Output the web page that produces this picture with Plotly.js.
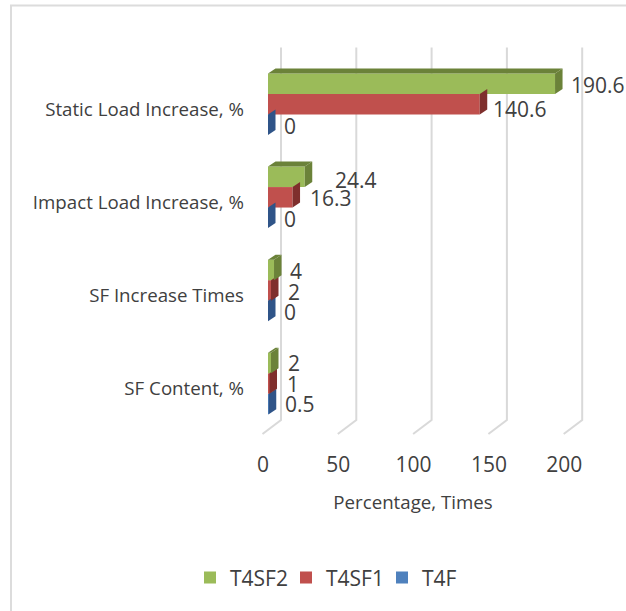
<!DOCTYPE html>
<html>
<head>
<meta charset="utf-8">
<script src="https://cdn.plot.ly/plotly-3.0.1.min.js"></script>
<style>html,body{margin:0;padding:0;background:#fff}</style>
</head>
<body>
<div id="chart" style="width:626px;height:611px"></div>
<script>
// Data (categories listed bottom to top)
const categories = ["SF Content, %", "SF Increase Times", "Impact Load Increase, %", "Static Load Increase, %"];
const T4F = [0.5, 0, 0, 0];
const T4SF1 = [1, 2, 16.3, 140.6];
const T4SF2 = [2, 4, 24.4, 190.6];
const xTicks = [0, 50, 100, 150, 200];
const xTitle = "Percentage, Times";

// Styling
const FONT = '"Open Sans", sans-serif';
const TXT = '#404040';
const GRID = '#d9d9d9';
const W = 626, H = 611;
const plotL = 240, plotR = 586, plotT = 45, plotB = 440;
const zeroPx = 268, pxPerUnit = 1.506;
const catPx = 93.1, cat0Px = 383.5;
const barPx = 20.5;
const depthX = 7.5, depthY = 5;

const series = [
  {name: 'T4F', values: T4F, color: '#4f81bd', side: '#2f5488', slot: -1},
  {name: 'T4SF1', values: T4SF1, color: '#c0504d', side: '#7f2f2d', slot: 0},
  {name: 'T4SF2', values: T4SF2, color: '#9bbb59', side: '#6b8239', slot: 1}
];
// Label nudges from the bar end, px (one per category, bottom to top)
const labelGapX = {T4F: [14, 14, 14, 14], T4SF1: [15, 15, 15, 11], T4SF2: [15, 14, 28, 14]};
const labelGapY = {T4F: [1, -0.5, 0, 0], T4SF1: [1, -1, 0, -4], T4SF2: [1, 0, -2.6, 0]};

const traces = series.map(s => ({
  type: 'bar', orientation: 'h', name: s.name,
  y: categories, x: s.values,
  marker: {color: s.color, line: {width: 0}},
  hoverinfo: 'x+name'
}));

const shapes = [];
// Back wall gridlines with slanted floor segment, anchored at the tick value
xTicks.forEach(t => shapes.push({
  type: 'path', layer: 'below', xref: 'x', yref: 'paper',
  xsizemode: 'pixel', ysizemode: 'pixel', xanchor: t, yanchor: 0,
  path: `M13,${plotB - 47.5} L13,${plotB - 420} L-5.5,${plotB - 434}`,
  line: {color: GRID, width: 2}, fillcolor: 'rgba(0,0,0,0)'
}));

// Depth faces of the bars, anchored at each bar end
series.forEach(s => s.values.forEach((v, i) => {
  const top = (s.slot + 0.5) * barPx, bot = (s.slot - 0.5) * barPx;
  shapes.push({
    type: 'path', layer: 'above', xref: 'x', yref: 'y',
    xsizemode: 'pixel', ysizemode: 'pixel', xanchor: v, yanchor: categories[i],
    path: `M0,${top} L${depthX},${top + depthY} L${depthX},${bot + depthY} L0,${bot} Z`,
    fillcolor: s.side, line: {width: 0}
  });
  if (s.slot === 1) {
    shapes.push({
      type: 'path', layer: 'above', xref: 'x', yref: 'y',
      xsizemode: 'pixel', ysizemode: 'pixel', xanchor: 0, yanchor: categories[i],
      path: `M0,${top} L${depthX},${top + depthY} L${depthX + v * pxPerUnit},${top + depthY} L${v * pxPerUnit},${top} Z`,
      fillcolor: s.side, line: {width: 0}
    });
  }
}));

// Chart frame (left and top edges)
shapes.push({
  type: 'path', xref: 'paper', yref: 'paper', xsizemode: 'pixel', ysizemode: 'pixel', xanchor: 0, yanchor: 0,
  path: `M${11 - plotL},${-(H - plotB)} L${11 - plotL},${plotB - 5.5} L${W - plotL + 5},${plotB - 5.5}`,
  line: {color: '#dcdcdc', width: 2}, fillcolor: 'rgba(0,0,0,0)', layer: 'below'
});

const annotations = [];
series.forEach(s => s.values.forEach((v, i) => annotations.push({
  x: v, y: categories[i], xref: 'x', yref: 'y',
  text: String(v), showarrow: false, xanchor: 'left', yanchor: 'middle',
  xshift: labelGapX[s.name][i], yshift: s.slot * barPx - 1 + labelGapY[s.name][i],
  font: {family: FONT, size: 21, color: TXT}
})));

const layout = {
  width: W, height: H,
  paper_bgcolor: '#fff', plot_bgcolor: 'rgba(0,0,0,0)',
  margin: {l: plotL, r: W - plotR, t: plotT, b: H - plotB, pad: 0},
  barmode: 'group', bargap: 0.34, bargroupgap: 0,
  showlegend: true,
  legend: {
    orientation: 'h', traceorder: 'reversed',
    entrywidthmode: 'pixels', entrywidth: 51,
    x: -0.1445, xref: 'paper', xanchor: 'left', y: -0.349, yanchor: 'middle',
    font: {family: FONT, size: 21, color: TXT}, bgcolor: 'rgba(0,0,0,0)'
  },
  xaxis: {
    range: [(plotL - zeroPx) / pxPerUnit, (plotR - zeroPx) / pxPerUnit],
    tickmode: 'array', tickvals: xTicks, ticktext: xTicks.map(String),
    showgrid: false, zeroline: false, showline: false, ticks: '',
    ticklabelshift: -5, ticklabelstandoff: 10,
    tickfont: {family: FONT, size: 21, color: TXT},
    title: {text: xTitle, font: {family: FONT, size: 18.7, color: TXT}, standoff: 18},
    automargin: false, fixedrange: true
  },
  yaxis: {
    type: 'category', categoryorder: 'array', categoryarray: categories,
    range: [-(plotB - cat0Px) / catPx, 3 + (cat0Px - 3 * catPx - plotT) / catPx],
    showgrid: false, zeroline: false, showline: false, ticks: '',
    ticklabelstandoff: -5, ticklabelshift: 5,
    tickfont: {family: FONT, size: 18.7, color: TXT},
    automargin: false, fixedrange: true
  },
  shapes: shapes,
  annotations: annotations
};

Plotly.newPlot('chart', traces, layout, {displayModeBar: false, responsive: false});
</script>
</body>
</html>
